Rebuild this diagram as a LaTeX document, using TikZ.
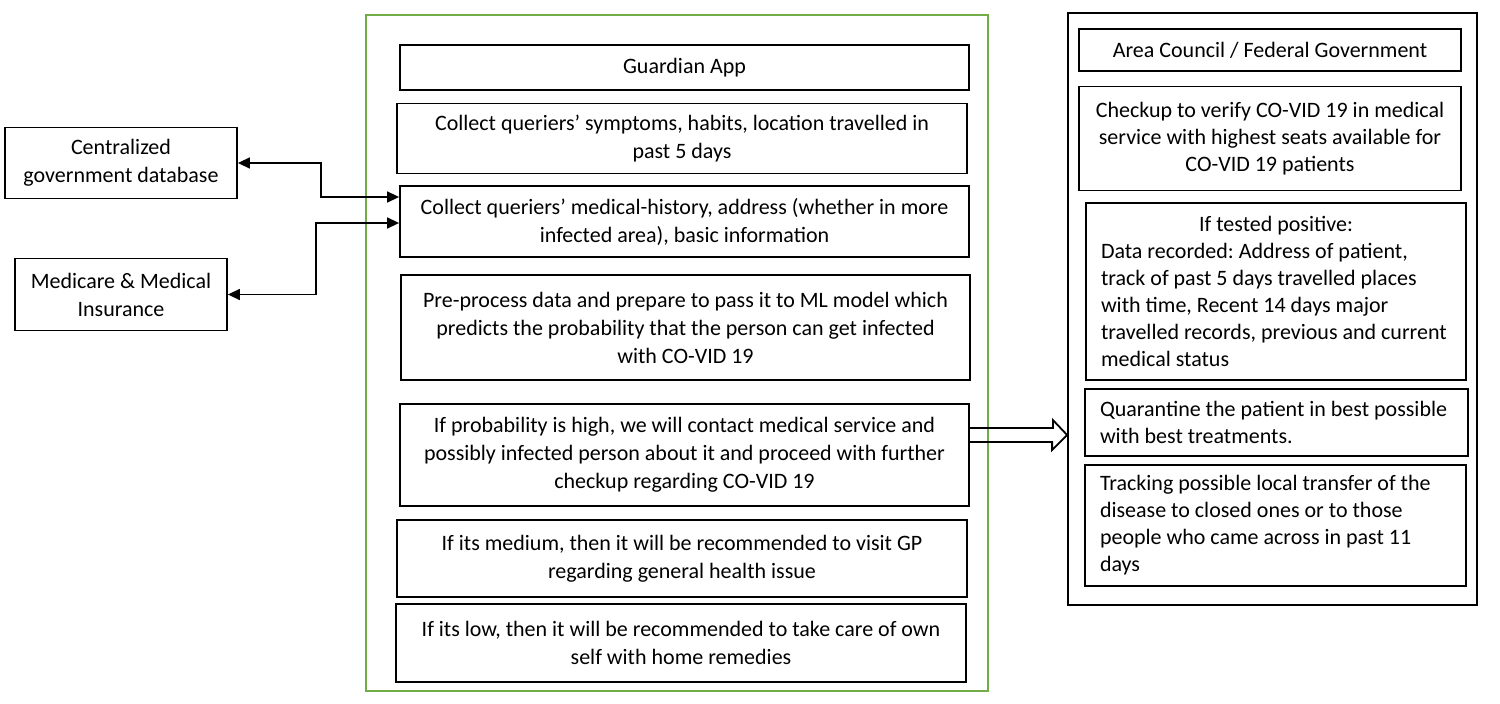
\documentclass[tikz,border=0pt]{standalone}
\usepackage{fontspec}
\setmainfont{Carlito}
\usetikzlibrary{arrows.meta}
\definecolor{framegreen}{RGB}{112,173,71}
\tikzset{
  box/.style={draw, line width=1.8pt, inner sep=0pt, align=center,
    font=\fontsize{22}{28}\selectfont\frenchspacing},
  govbox/.style={box, align=flush left, inner xsep=15pt, font=\fontsize{22}{27}\selectfont\frenchspacing},
  frame/.style={draw, line width=1.6pt, inner sep=0pt},
  link/.style={line width=1.5pt,
    {Triangle[length=12pt,width=11pt]}-{Triangle[length=12pt,width=11pt]}},
  hollow/.style={line width=1.8pt, line join=miter},
}
\begin{document}
\begin{tikzpicture}[x=1pt,y=-1pt]
  \useasboundingbox (0,0) rectangle (1500,704);
  % frames
  \node[frame, draw=framegreen, minimum width=622pt, minimum height=676pt] (appframe) at (677,353) {};
  \node[frame, line width=1.8pt, minimum width=409pt, minimum height=592pt] (gov) at (1272.5,309) {};
  % left side
  \node[box, minimum width=232pt, minimum height=71pt] (cgd) at (121,163) {Centralized\\government database};
  \node[box, minimum width=212pt, minimum height=72pt] (mcr) at (121,294.5) {Medicare \& Medical\\Insurance};
  % Guardian App column
  \node[box, minimum width=569pt, minimum height=45pt] (app) at (684.5,67.5) {Guardian App};
  \node[box, minimum width=570pt, minimum height=70pt] (symp) at (682,138.5)
    {Collect queriers’ symptoms, habits, location travelled in\\past 5 days};
  \node[box, minimum width=569pt, minimum height=71pt] (hist) at (684.5,221.5)
    {Collect queriers’ medical-history, address (whether in more\\infected area), basic information};
  \node[box, minimum width=569pt, minimum height=105pt] (pre) at (685.5,327.5)
    {Pre-process data and prepare to pass it to ML model which\\predicts the probability that the person can get infected\\with CO-VID 19};
  \node[box, minimum width=569pt, minimum height=102pt] (prob) at (684.5,455)
    {If probability is high, we will contact medical service and\\possibly infected person about it and proceed with further\\checkup regarding CO-VID 19};
  \node[box, minimum width=570pt, minimum height=77pt] (med) at (682,558.5)
    {If its medium, then it will be recommended to visit GP\\regarding general health issue};
  \node[box, minimum width=570pt, minimum height=78pt] (low) at (681,643)
    {If its low, then it will be recommended to take care of own\\self with home remedies};
  % government column
  \node[box, minimum width=382pt, minimum height=42pt] (area) at (1270,50) {Area Council / Federal Government};
  \node[box, font=\fontsize{22}{27}\selectfont, minimum width=382pt, minimum height=104pt] (check) at (1270,138.5)
    {Checkup to verify CO-VID 19 in medical\\service with highest seats available for\\CO-VID 19 patients};
  \node[govbox, text width=350pt, minimum height=177pt] (pos) at (1276,291.5)
    {\makebox[350pt][c]{If tested positive:}\\Data recorded: Address of patient,\\track of past 5 days travelled places\\with time, Recent 14 days major\\travelled records, previous and current\\medical status};
  \node[govbox, text width=353pt, minimum height=67pt] (quar) at (1276.5,422.5)
    {Quarantine the patient in best possible\\with best treatments.};
  \node[govbox, text width=351pt, minimum height=121pt] (track) at (1275.5,525.5)
    {Tracking possible local transfer of the\\disease to closed ones or to those\\people who came across in past 11\\days};
  % connectors
  \draw[link] (cgd.east) -- ++(83,0) |- ([yshift=24.5pt]hist.west);
  \draw[link] (mcr.east) -- ++(88,0) |- ([yshift=-1.5pt]hist.west);
  \draw[hollow] ([yshift=27pt]prob.east) -- ++(83,0) -- ++(0,-8) -- (gov.west |- {0,435})
    -- ++(-15,15) -- ++(0,-8) -- ++(-83,0);
\end{tikzpicture}
\end{document}
